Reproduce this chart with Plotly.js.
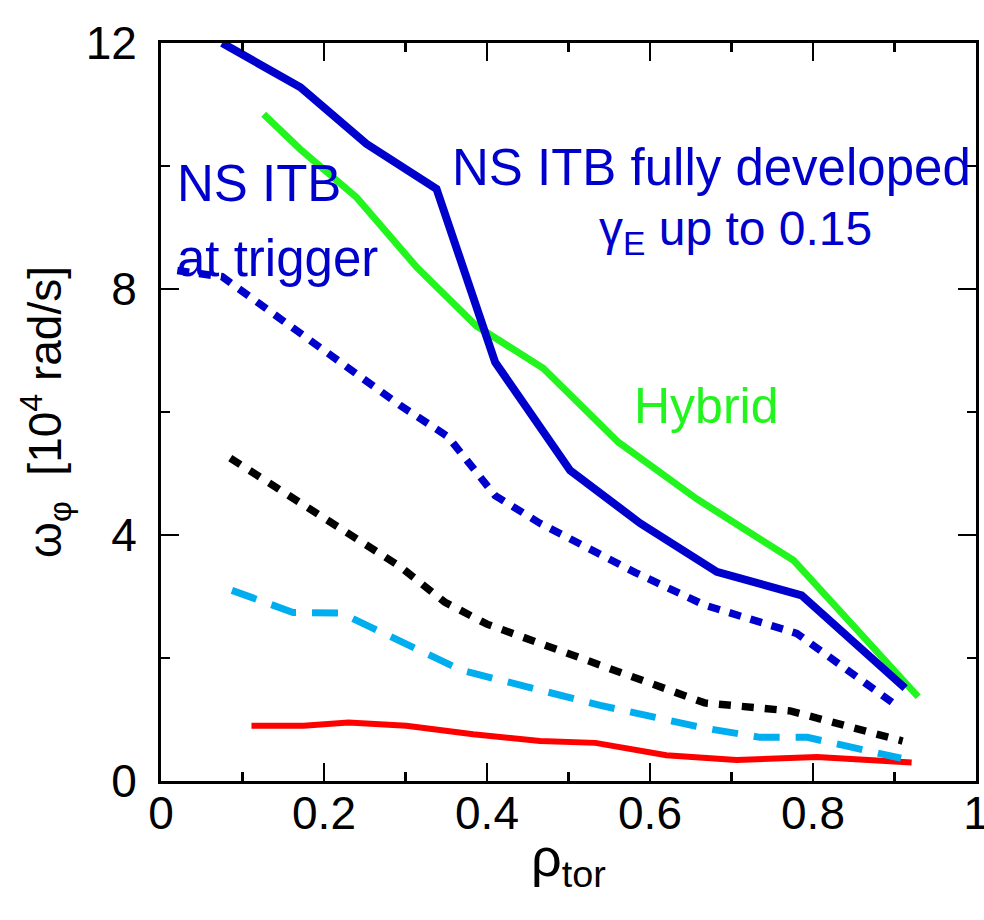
<!DOCTYPE html>
<html><head><meta charset="utf-8">
<script src="https://cdn.plot.ly/plotly-3.0.1.min.js"></script>
<style>html,body{margin:0;padding:0;background:#fff}#chart{width:984px;height:920px}</style>
</head><body><div id="chart"></div>
<script>
// NS ITB fully developed (solid dark blue)
const nsFullX = [0.075,0.171,0.252,0.338,0.410,0.502,0.588,0.682,0.786,0.913];
const nsFullY = [12.0,11.28,10.36,9.63,6.81,5.05,4.19,3.40,3.02,1.51];
// Hybrid (solid green)
const hybridX = [0.126,0.171,0.240,0.314,0.387,0.469,0.561,0.657,0.776,0.929];
const hybridY = [10.84,10.27,9.49,8.35,7.40,6.71,5.51,4.59,3.59,1.37];
// NS ITB at trigger (dashed dark blue)
const nsTrigX = [0.020,0.075,0.293,0.352,0.410,0.465,0.582,0.667,0.780,0.900];
const nsTrigY = [8.30,8.20,6.11,5.60,4.64,4.19,3.39,2.86,2.40,1.25];
// black dashed
const blackX = [0.085,0.293,0.348,0.400,0.667,0.772,0.910];
const blackY = [5.25,3.49,2.91,2.55,1.27,1.14,0.65];
// cyan dashed
const cyanX = [0.087,0.162,0.220,0.232,0.369,0.539,0.667,0.735,0.793,0.908];
const cyanY = [3.10,2.74,2.73,2.66,1.80,1.23,0.86,0.71,0.71,0.37];
// red solid
const redX = [0.111,0.175,0.230,0.301,0.383,0.465,0.533,0.620,0.706,0.805,0.921];
const redY = [0.90,0.90,0.95,0.90,0.76,0.65,0.62,0.42,0.34,0.39,0.30];

const xTickVals = [0,0.2,0.4,0.6,0.8,1];
const xTickText = ['0','0.2','0.4','0.6','0.8','1'];
const yTickVals = [0,4,8,12];
const yTickText = ['0','4','8','12'];

const BLUE = '#0000cc', GREEN = '#22f51e', CYAN = '#00aeef', RED = '#ff0000';

const traces = [
  {x: redX, y: redY, mode:'lines', line:{color:RED, width:6}},
  {x: cyanX, y: cyanY, mode:'lines', line:{color:CYAN, width:7, dash:'26px,16px'}},
  {x: blackX, y: blackY, mode:'lines', line:{color:'#000', width:7.5, dash:'12px,11px'}},
  {x: nsTrigX, y: nsTrigY, mode:'lines', line:{color:BLUE, width:7.5, dash:'12px,10px'}},
  {x: hybridX, y: hybridY, mode:'lines', line:{color:GREEN, width:7}},
  {x: nsFullX, y: nsFullY, mode:'lines', line:{color:BLUE, width:8}}
];

const F = 'Liberation Sans, Arial, sans-serif';
const layout = {
  width: 984, height: 920,
  margin: {l:161, r:8, t:43, b:139},
  showlegend: false,
  paper_bgcolor:'#fff', plot_bgcolor:'#fff',
  xaxis: {
    range:[0,1], tickvals:xTickVals, ticktext:xTickText,
    ticks:'inside', ticklen:18, tickwidth:2.5, tickcolor:'#000',
    minor:{dtick:0.1, tick0:0, ticks:'inside', ticklen:9, tickwidth:2.5, tickcolor:'#000'},
    showline:true, linecolor:'#000', linewidth:3, mirror:'allticks',
    showgrid:false, zeroline:false,
    tickfont:{family:F, size:46, color:'#000'},
    ticklabelstandoff: -10,
    ticklabeloverflow:'allow',
    title:{text:'ρ<sub>tor</sub>', font:{family:F, size:54, color:'#000'}, standoff:0}
  },
  yaxis: {
    range:[0,12], tickvals:yTickVals, ticktext:yTickText,
    ticks:'inside', ticklen:18, tickwidth:2.5, tickcolor:'#000',
    minor:{dtick:2, tick0:0, ticks:'inside', ticklen:9, tickwidth:2.5, tickcolor:'#000'},
    showline:true, linecolor:'#000', linewidth:3, mirror:'allticks',
    showgrid:false, zeroline:false,
    tickfont:{family:F, size:46, color:'#000'},
    ticklabelstandoff: 12,
    title:{text:'ω<sub>φ</sub>  [10<sup>4</sup> rad/s]', font:{family:F, size:46, color:'#000'}, standoff:10}
  },
  annotations: [
    {x:0.355, y:9.97, xref:'x', yref:'y', xanchor:'left', yanchor:'middle', showarrow:false,
     text:'NS ITB fully developed', font:{family:F, size:51, color:BLUE}},
    {x:0.705, y:8.92, xref:'x', yref:'y', xanchor:'center', yanchor:'middle', showarrow:false,
     text:'γ<sub>E</sub> up to 0.15', font:{family:F, size:48, color:BLUE}},
    {x:0.017, y:9.72, xref:'x', yref:'y', xanchor:'left', yanchor:'middle', showarrow:false,
     text:'NS ITB', font:{family:F, size:51, color:BLUE}},
    {x:0.017, y:8.5, xref:'x', yref:'y', xanchor:'left', yanchor:'middle', showarrow:false,
     text:'at trigger', font:{family:F, size:51, color:BLUE}},
    {x:0.578, y:6.1, xref:'x', yref:'y', xanchor:'left', yanchor:'middle', showarrow:false,
     text:'Hybrid', font:{family:F, size:50, color:GREEN}}
  ]
};
Plotly.newPlot('chart', traces, layout, {staticPlot:true, displayModeBar:false});
</script></body></html>
